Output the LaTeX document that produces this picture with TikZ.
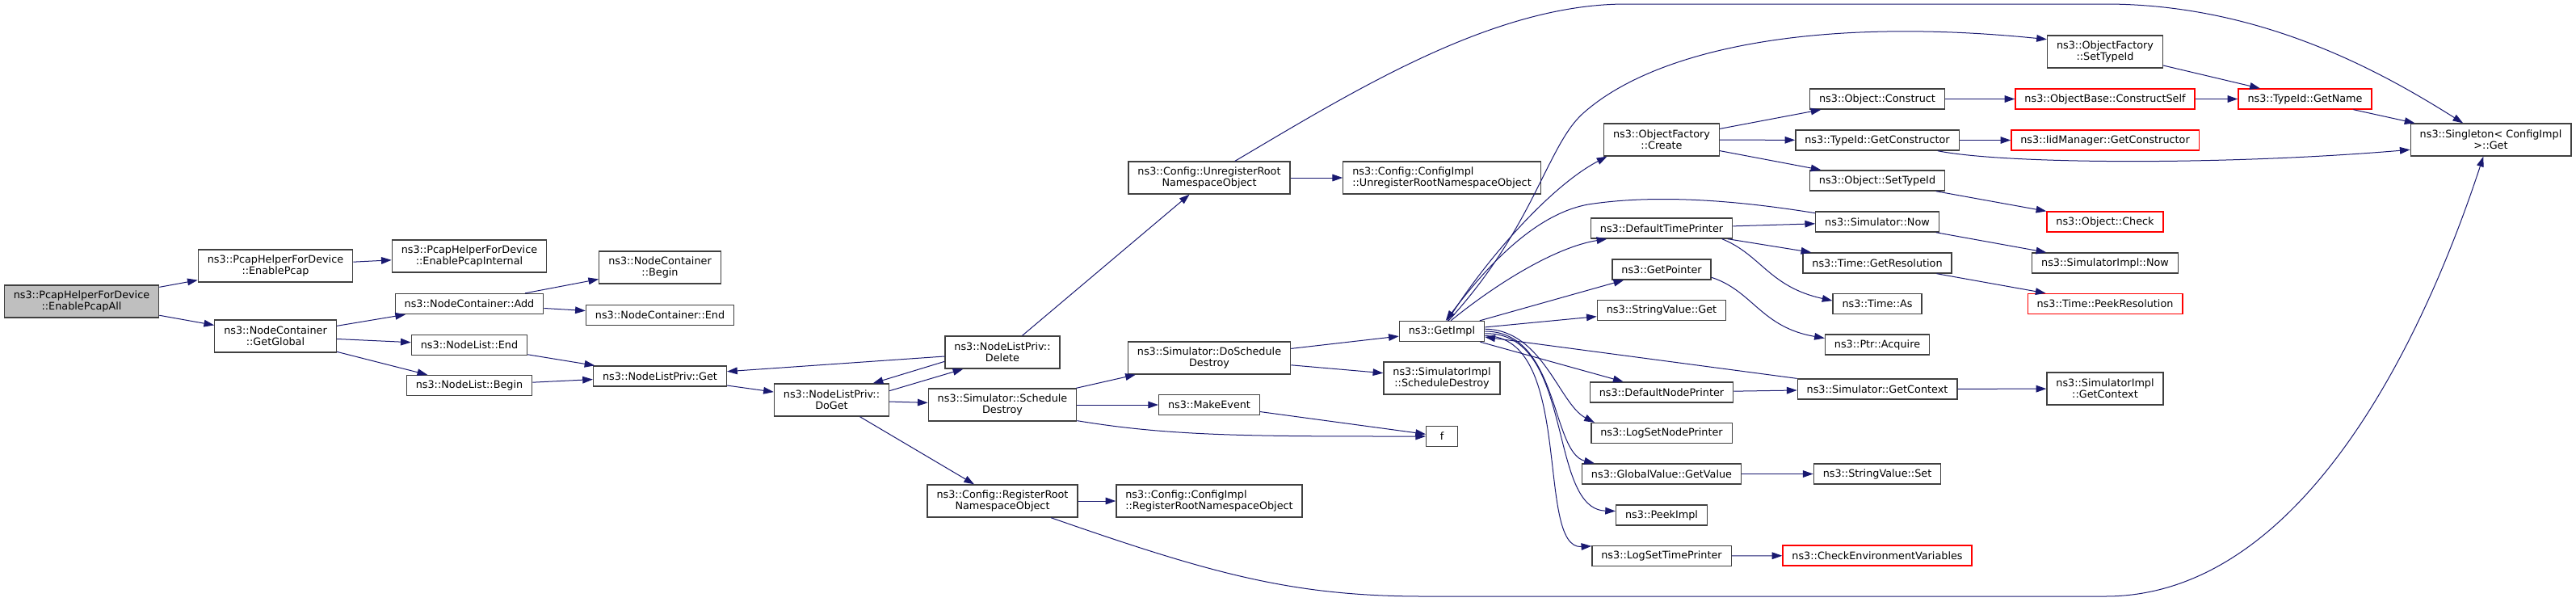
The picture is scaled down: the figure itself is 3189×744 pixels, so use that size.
\documentclass[tikz,border=0pt]{standalone}
\usepackage{fontspec}
\setmainfont{DejaVu Sans}
\usetikzlibrary{arrows.meta}

\definecolor{edgeblue}{HTML}{191970}
\definecolor{boxgray}{HTML}{404040}
\definecolor{truncred}{HTML}{FF0000}
\definecolor{rootgray}{HTML}{BFBFBF}

\tikzset{
  fn/.style={draw=boxgray, line width=1pt, fill=white, align=center,
    inner xsep=8.6pt, inner ysep=2pt, minimum height=18.75pt,
    font=\fontsize{9.6}{10.7}\selectfont},
  fntwo/.style={fn, minimum height=30pt},
  trunc/.style={draw=truncred},
  call/.style={draw=edgeblue, line width=0.75pt, ->},
}

\begin{document}
\begin{tikzpicture}[x=0.75pt, y=-0.75pt, >={Triangle[length=9.5pt,width=6.5pt]}]
  \useasboundingbox (0,0) rectangle (3189,744);

  % first columns
  \node[fntwo, fill=rootgray] (ea) at (101,373) {ns3::PcapHelperForDevice\\::EnablePcapAll};
  \node[fntwo] (ep) at (341,329) {ns3::PcapHelperForDevice\\::EnablePcap};
  \node[fntwo] (gg) at (341,416) {ns3::NodeContainer\\::GetGlobal};
  \node[fntwo] (epi) at (581,317) {ns3::PcapHelperForDevice\\::EnablePcapInternal};
  \node[fn] (nca) at (581,376) {ns3::NodeContainer::Add};
  \node[fn] (nle) at (581,427) {ns3::NodeList::End};
  \node[fn] (nlb) at (581,477) {ns3::NodeList::Begin};
  \node[fntwo] (ncb) at (817,331) {ns3::NodeContainer\\::Begin};
  \node[fn] (nce) at (817,390) {ns3::NodeContainer::End};
  \node[fn] (nlg) at (817,465.5) {ns3::NodeListPriv::Get};
  \node[fntwo] (dg) at (1029.5,495) {ns3::NodeListPriv::\\DoGet};
  \node[fntwo] (dl) at (1241,436) {ns3::NodeListPriv::\\Delete};
  \node[fntwo] (sd) at (1241,501) {ns3::Simulator::Schedule\\Destroy};
  \node[fntwo] (rr) at (1241,620) {ns3::Config::RegisterRoot\\NamespaceObject};
  \node[fntwo] (ur) at (1497,220) {ns3::Config::UnregisterRoot\\NamespaceObject};
  \node[fntwo] (dsd) at (1497,443) {ns3::Simulator::DoSchedule\\Destroy};
  \node[fn] (me) at (1497,501) {ns3::MakeEvent};
  \node[fntwo, align=left] (cirr) at (1497,620) {ns3::Config::ConfigImpl\\::RegisterRootNamespaceObject};
  \node[fntwo, align=left] (ciur) at (1785,220) {ns3::Config::ConfigImpl\\::UnregisterRootNamespaceObject};
  \node[fn] (gi) at (1785,410) {ns3::GetImpl};
  \node[fntwo] (sisd) at (1785,468) {ns3::SimulatorImpl\\::ScheduleDestroy};
  \node[fn, minimum width=29pt] (f) at (1785,540) {f};

  % callees of GetImpl
  \node[fntwo] (cr) at (2057,173) {ns3::ObjectFactory\\::Create};
  \node[fn] (dtp) at (2057,282.5) {ns3::DefaultTimePrinter};
  \node[fn] (gp) at (2057,333.5) {ns3::GetPointer};
  \node[fn] (svg) at (2057,384) {ns3::StringValue::Get};
  \node[fn] (dnp) at (2057,485.5) {ns3::DefaultNodePrinter};
  \node[fn] (lsnp) at (2057,536) {ns3::LogSetNodePrinter};
  \node[fn] (gv) at (2057,586.5) {ns3::GlobalValue::GetValue};
  \node[fn] (pk) at (2057,637.5) {ns3::PeekImpl};
  \node[fn] (lstp) at (2057,688) {ns3::LogSetTimePrinter};

  \node[fn] (oc) at (2324,122.5) {ns3::Object::Construct};
  \node[fn] (tgc) at (2324,173.5) {ns3::TypeId::GetConstructor};
  \node[fn] (ost) at (2324,223.5) {ns3::Object::SetTypeId};
  \node[fn] (sn) at (2324,274.5) {ns3::Simulator::Now};
  \node[fn] (tgr) at (2324,325.5) {ns3::Time::GetResolution};
  \node[fn] (ta) at (2324,376) {ns3::Time::As};
  \node[fn] (pa) at (2324,426.5) {ns3::Ptr::Acquire};
  \node[fn] (sgc) at (2324,481.5) {ns3::Simulator::GetContext};
  \node[fn] (svs) at (2324,586.5) {ns3::StringValue::Set};
  \node[fn, trunc] (cev) at (2324,687.5) {ns3::CheckEnvironmentVariables};

  \node[fntwo] (sti) at (2606,64) {ns3::ObjectFactory\\::SetTypeId};
  \node[fn, trunc] (ocs) at (2606,122.5) {ns3::ObjectBase::ConstructSelf};
  \node[fn, trunc] (igc) at (2606,173.5) {ns3::IidManager::GetConstructor};
  \node[fn, trunc] (ock) at (2606,274.5) {ns3::Object::Check};
  \node[fn] (sin) at (2606,325.5) {ns3::SimulatorImpl::Now};
  \node[fn, trunc] (tpr) at (2606,376) {ns3::Time::PeekResolution};
  \node[fntwo] (sigc) at (2606,481) {ns3::SimulatorImpl\\::GetContext};
  \node[fn, trunc] (gn) at (2853.5,122.5) {ns3::TypeId::GetName};
  \node[fntwo] (sg) at (3083.5,173) {ns3::Singleton< ConfigImpl\\>::Get};

  % calls
  \draw[call] (ea) -- (ep);
  \draw[call] (ea) -- (gg);
  \draw[call] (ep) -- (epi);
  \draw[call] (gg) -- (nca);
  \draw[call] (gg) -- (nle);
  \draw[call] (gg) -- (nlb);
  \draw[call] (nca) -- (ncb);
  \draw[call] (nca) -- (nce);
  \draw[call] (nle) -- (nlg);
  \draw[call] (nlb) -- (nlg);
  \draw[call] (nlg) -- (dg);
  \draw[call] (dl) -- (nlg);
  \draw[call] (dl.189) -- (dg.22);
  \draw[call] (dg.9.5) -- (dl.203);
  \draw[call] (dg) -- (sd);
  \draw[call] (dg) -- (rr);
  \draw[call] (dl) -- (ur);
  \draw[call] (ur) -- (ciur);
  \draw[call] (sd) -- (dsd);
  \draw[call] (sd) -- (me);
  \draw[call] (sd.-12) .. controls (1450,540) and (1550,540) .. (f.west);
  \draw[call] (me) -- (f);
  \draw[call] (rr) -- (cirr);
  \draw[call] (dsd) -- (gi);
  \draw[call] (dsd) -- (sisd);
  \draw[call] (ur.33) .. controls (1680,110) and (1850,5) .. (2013,5)
    -- (2606,5) .. controls (2800,5) and (2950,90) .. (sg.149);
  \draw[call] (rr.-19) .. controls (1500,710) and (1600,738) .. (1763,738)
    -- (2606,738) .. controls (2850,738) and (3000,420) .. (sg.-114);

  % out of GetImpl
  \draw[call] (gi.62) .. controls (1840,320) and (1920,230) .. (cr.197);
  \draw[call] (gi.58) .. controls (1900,280) and (1915,180) .. (1960,140)
    .. controls (2050,60) and (2250,20) .. (sti.168);
  \draw[call] (gi.50) .. controls (1860,345) and (1930,305) .. (dtp.191);
  \draw[call] (gi) -- (gp);
  \draw[call] (gi) -- (svg);
  \draw[call] (gi) -- (dnp);
  \draw[call] (gi.3) .. controls (1910,408) and (1930,500) .. (lsnp.171);
  \draw[call] (gi.0) .. controls (1930,410) and (1920,560) .. (gv.171);
  \draw[call] (gi.-3) .. controls (1950,410) and (1915,630) .. (pk.175);
  \draw[call] (gi.-6) .. controls (1950,415) and (1900,680) .. (lstp.172);
  \draw[call] (sn.172) .. controls (2150,248) and (2050,240) .. (1966,253)
    .. controls (1900,265) and (1840,330) .. (gi.70);
  \draw[call] (sgc) -- (gi);

  % further right
  \draw[call] (cr) -- (oc);
  \draw[call] (cr) -- (tgc);
  \draw[call] (cr) -- (ost);
  \draw[call] (dtp) -- (sn);
  \draw[call] (dtp) -- (tgr);
  \draw[call] (dtp.-10) .. controls (2180,315) and (2190,355) .. (ta.176);
  \draw[call] (gp.-9) .. controls (2170,360) and (2180,405) .. (pa.173);
  \draw[call] (dnp) -- (sgc);
  \draw[call] (gv) -- (svs);
  \draw[call] (lstp) -- (cev);
  \draw[call] (oc) -- (ocs);
  \draw[call] (tgc) -- (igc);
  \draw[call] (tgc.-10) .. controls (2480,203) and (2750,205) .. (sg.187);
  \draw[call] (ost) -- (ock);
  \draw[call] (sn) -- (sin);
  \draw[call] (tgr) -- (tpr);
  \draw[call] (sgc) -- (sigc);
  \draw[call] (sti) -- (gn);
  \draw[call] (ocs) -- (gn);
  \draw[call] (gn) -- (sg);
\end{tikzpicture}
\end{document}
